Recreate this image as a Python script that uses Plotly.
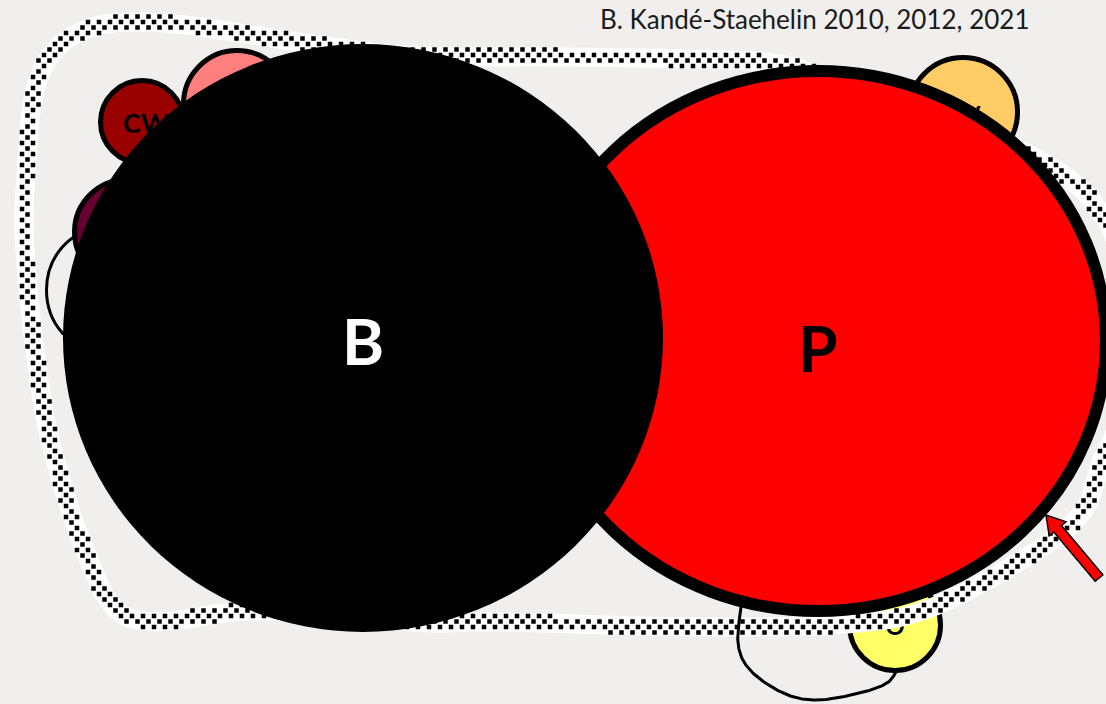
import numpy as np
import plotly.graph_objects as go

W, H = 1106, 704
BG = "#F0EFED"

# ---- diagram data (pixel space, y downwards) ----
title_text = "B. Kandé-Staehelin 2010, 2012, 2021"

# small circles (drawn below): name, centre, outer radii, fill, stroke width
small_names = ["yellow", "ellipse", "purple", "CW", "pink", "orange"]
small_cx = [895, 100, 127, 142, 237, 963]
small_cy = [625, 290, 232, 122, 104, 112]
small_rx = [48, 55, 55, 44, 56, 57]
small_ry = [48, 62, 55, 44, 56, 57]
small_fill = ["#FFFF66", "rgba(0,0,0,0)", "#660033", "#990000", "#FF7F7F", "#FFCC66"]
small_lw = [5, 3, 5, 5, 5, 5]

# large circles (drawn above)
big_names = ["P", "B"]
big_cx = [818, 363]
big_cy = [341, 338]
big_rx = [294, 300]
big_ry = [276, 294]
big_fill = ["#FF0000", "#000000"]
big_lw = [12, 0]

# hidden/partly hidden labels
small_labels = ["O", "CW", "V"]
small_label_x = [895, 146, 972]
small_label_y = [629, 126, 118]
small_label_size = [24, 27, 24]

# dotted boundary band (closed path control points)
band_x = [25, 27, 35, 55, 90, 133, 185, 233, 333, 417, 560, 680, 780, 850, 930, 1000,
          1068, 1100, 1118, 1126, 1118, 1101, 1083, 1033, 933, 847, 700, 500, 430, 350,
          247, 170, 130, 108, 92, 67, 42]
band_y = [250, 160, 90, 50, 28, 22, 25, 32, 47, 56, 57, 59, 64, 88, 112, 140,
          178, 212, 250, 330, 420, 462, 511, 553, 607, 624, 627, 622, 623, 616,
          611, 621, 618, 600, 567, 500, 400]

# thin loop below P
loop_x = [742, 738, 750, 783, 817, 860, 887, 897]
loop_y = [600, 643, 670, 693, 700, 693, 683, 670]

# arrow (tail -> tip)
arrow_tail = (1099, 578)
arrow_tip = (1046, 515)


def catmull_rom(px, py, closed, n=24):
    P = np.column_stack([px, py]).astype(float)
    if closed:
        pts = np.vstack([P[-1], P, P[0], P[1]])
    else:
        pts = np.vstack([P[0], P, P[-1]])
    out = []
    t = np.linspace(0, 1, n, endpoint=False)[:, None]
    for i in range(1, len(pts) - 2):
        p0, p1, p2, p3 = pts[i - 1:i + 3]
        seg = 0.5 * ((2 * p1) + (-p0 + p2) * t + (2 * p0 - 5 * p1 + 4 * p2 - p3) * t ** 2
                     + (-p0 + 3 * p1 - 3 * p2 + p3) * t ** 3)
        out.append(seg)
    out.append(pts[-2][None])
    return np.vstack(out)


fig = go.Figure()

# labels that are partly hidden (traces, below the big shapes)
fig.add_trace(go.Scatter(
    x=small_label_x, y=small_label_y, mode="text", text=small_labels,
    textfont=dict(family="Lato", size=small_label_size, color="black", weight="bold"),
    textposition="middle center", hoverinfo="skip", showlegend=False))

# band: white stroke
curve = catmull_rom(band_x, band_y, closed=True)
fig.add_trace(go.Scatter(x=curve[:, 0], y=curve[:, 1], mode="lines",
                         line=dict(color="white", width=19, simplify=False),
                         hoverinfo="skip", showlegend=False))

# band: axis-aligned small-checker pattern clipped to the band
seg = np.diff(curve, axis=0)
seglen = np.hypot(seg[:, 0], seg[:, 1])
s = np.concatenate([[0], np.cumsum(seglen)])
ss = np.arange(0, s[-1], 1.0)
dense_x = np.interp(ss, s, curve[:, 0])
dense_y = np.interp(ss, s, curve[:, 1])
cell = 5.5
ni, nj = int(1200 / cell), int(720 / cell)
mask = np.zeros((ni, nj), bool)
I0 = np.round(dense_x / cell).astype(int)
J0 = np.round(dense_y / cell).astype(int)
for di in range(-3, 4):
    for dj in range(-3, 4):
        ii, jj = I0 + di, J0 + dj
        d = np.hypot(ii * cell - dense_x, jj * cell - dense_y)
        ok = (d <= 7.5) & (ii >= 0) & (jj >= 0) & (ii < ni) & (jj < nj)
        mask[ii[ok], jj[ok]] = True
gi, gj = np.nonzero(mask)
keep = (gi + gj) % 2 == 0
fig.add_trace(go.Scatter(
    x=gi[keep] * cell, y=gj[keep] * cell, mode="markers",
    marker=dict(symbol="square", size=4.5, color="black", line=dict(width=0)),
    hoverinfo="skip", showlegend=False))

# loop
lc = catmull_rom(loop_x, loop_y, closed=False)
fig.add_trace(go.Scatter(x=lc[:, 0], y=lc[:, 1], mode="lines",
                         line=dict(color="black", width=3),
                         hoverinfo="skip", showlegend=False))

shapes = []
for cx, cy, rx, ry, fc, lw in zip(small_cx, small_cy, small_rx, small_ry, small_fill, small_lw):
    r_x, r_y = rx - lw / 2, ry - lw / 2
    shapes.append(dict(type="circle", xref="x", yref="y", layer="below",
                       x0=cx - r_x, x1=cx + r_x, y0=cy - r_y, y1=cy + r_y,
                       fillcolor=fc, line=dict(color="black", width=lw)))
for cx, cy, rx, ry, fc, lw in zip(big_cx, big_cy, big_rx, big_ry, big_fill, big_lw):
    r_x, r_y = rx - lw / 2, ry - lw / 2
    shapes.append(dict(type="circle", xref="x", yref="y", layer="above",
                       x0=cx - r_x, x1=cx + r_x, y0=cy - r_y, y1=cy + r_y,
                       fillcolor=fc, line=dict(color="black", width=lw)))

# arrow polygon
tail = np.array(arrow_tail, float)
tip = np.array(arrow_tip, float)
u = (tip - tail) / np.linalg.norm(tip - tail)
nv = np.array([-u[1], u[0]])
base = tip - u * 18
pts = [tail + nv * 5, base + nv * 5, base + nv * 11, tip, base - nv * 11, base - nv * 5, tail - nv * 5]
path = "M " + " L ".join(f"{p[0]:.1f},{p[1]:.1f}" for p in pts) + " Z"
shapes.append(dict(type="path", xref="x", yref="y", layer="above", path=path,
                   fillcolor="#FF0000", line=dict(color="black", width=1.5)))

annotations = [
    dict(x=363, y=340, xref="x", yref="y", text="<b>B</b>", showarrow=False,
         font=dict(family="Lato", size=64, color="white")),
    dict(x=818, y=347, xref="x", yref="y", text="<b>P</b>", showarrow=False,
         font=dict(family="Lato", size=64, color="black")),
    dict(x=1031, y=19, xref="x", yref="y", text=title_text, showarrow=False,
         xanchor="right", yanchor="middle",
         font=dict(family="Lato", size=26, color="#1a1a1a")),
]

fig.update_layout(
    width=W, height=H, margin=dict(l=0, r=0, t=0, b=0),
    paper_bgcolor=BG, plot_bgcolor=BG,
    xaxis=dict(range=[0, W], visible=False, fixedrange=True),
    yaxis=dict(range=[H, 0], visible=False, fixedrange=True),
    shapes=shapes, annotations=annotations, showlegend=False,
)
fig.write_html("out.html", config={"displayModeBar": False},
               post_script="document.body.style.margin='0px';document.body.style.background='%s';" % BG)
